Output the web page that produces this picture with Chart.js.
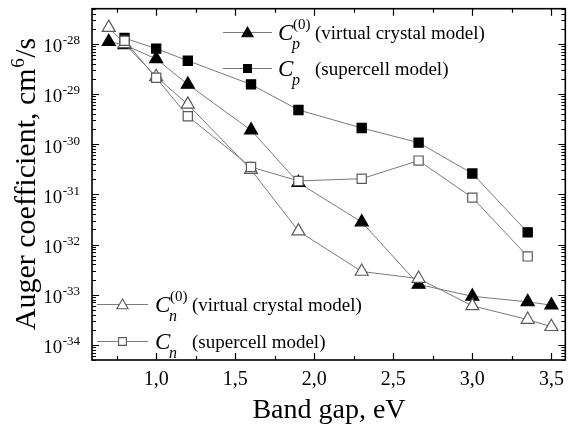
<!DOCTYPE html>
<html><head><meta charset="utf-8">
<script src="https://cdn.jsdelivr.net/npm/chart.js@4.4.0/dist/chart.umd.min.js"></script>
<style>html,body{margin:0;padding:0;background:#fff}canvas{display:block}</style>
</head><body>
<canvas id="c" width="574" height="428"></canvas>
<script>
// Band gap (eV) values for each series
const gapCp0 = [0.7, 0.8, 1.0, 1.2, 1.6, 1.9, 2.3, 2.66, 3.0, 3.35, 3.5];
const valCp0 = [1.1e-28, 9.5e-29, 5.0e-29, 1.55e-29, 1.9e-30, 1.7e-31, 2.8e-32, 1.6e-33, 9.3e-34, 7.2e-34, 6.2e-34];
const gapCp  = [0.8, 1.0, 1.2, 1.6, 1.9, 2.3, 2.66, 3.0, 3.35];
const valCp  = [1.3e-28, 8.0e-29, 4.6e-29, 1.55e-29, 4.8e-30, 2.1e-30, 1.07e-30, 2.6e-31, 1.75e-32];
const gapCn0 = [0.7, 0.8, 1.0, 1.2, 1.6, 1.9, 2.3, 2.66, 3.0, 3.35, 3.5];
const valCn0 = [2.1e-28, 1.0e-28, 2.2e-29, 6.2e-30, 3.1e-31, 1.85e-32, 2.9e-33, 2.1e-33, 6.0e-34, 3.2e-34, 2.3e-34];
const gapCn  = [0.8, 1.0, 1.2, 1.6, 1.9, 2.3, 2.66, 3.0, 3.35];
const valCn  = [1.15e-28, 2.1e-29, 3.6e-30, 3.5e-31, 1.85e-31, 2.05e-31, 4.7e-31, 8.6e-32, 5.8e-33];

const xMajorTicks = [1.0, 1.5, 2.0, 2.5, 3.0, 3.5];
const xTickLabels = ['1,0', '1,5', '2,0', '2,5', '3,0', '3,5'];
const yDecades = [-34, -33, -32, -31, -30, -29, -28];
const xTitle = 'Band gap, eV';
const yTitleParts = ['Auger coefficient, cm', '6', '/s'];
const legendMain = ['C', 'C', 'C', 'C'];
const legendSub = ['p', 'p', 'n', 'n'];
const legendSup = ['(0)', '', '(0)', ''];
const legendText = ['(virtual crystal model)', '(supercell model)', '(virtual crystal model)', '(supercell model)'];

function pts(xs, ys) { return xs.map((x, i) => ({x: x, y: ys[i]})); }

const SERIF = '"Liberation Serif", "Times New Roman", serif';
const LINE = '#7a7a7a';
const OPEN = '#5a5a5a';

const styles = [
  {pointStyle: 'triangle', radius: 7.5, fill: '#000', stroke: '#000'},
  {pointStyle: 'rect', radius: 6.5, fill: '#000', stroke: '#000'},
  {pointStyle: 'triangle', radius: 7.5, fill: '#fff', stroke: OPEN},
  {pointStyle: 'rect', radius: 6.5, fill: '#fff', stroke: OPEN}
];

function ds(label, data, s) {
  return {
    label: label, data: data, borderColor: LINE, borderWidth: 1,
    pointStyle: s.pointStyle, pointRadius: s.radius, pointHoverRadius: s.radius,
    pointBackgroundColor: s.fill, pointBorderColor: s.stroke, pointBorderWidth: 1.2,
    tension: 0, fill: false
  };
}

function drawMarker(ctx, style, x, y, r, fill, stroke) {
  ctx.save();
  ctx.beginPath();
  if (style === 'triangle') {
    ctx.moveTo(x, y - r);
    ctx.lineTo(x + r * Math.sin(2 * Math.PI / 3), y - r * Math.cos(2 * Math.PI / 3));
    ctx.lineTo(x + r * Math.sin(4 * Math.PI / 3), y - r * Math.cos(4 * Math.PI / 3));
    ctx.closePath();
  } else {
    const h = r * Math.SQRT1_2;
    ctx.rect(x - h, y - h, 2 * h, 2 * h);
  }
  ctx.fillStyle = fill; ctx.fill();
  ctx.lineWidth = 1.1; ctx.strokeStyle = stroke; ctx.stroke();
  ctx.restore();
}

const decor = {
  id: 'decor',
  afterDraw(chart) {
    const ctx = chart.ctx;
    const xs = chart.scales.x, ys = chart.scales.y;
    const a = chart.chartArea;
    ctx.save();
    // frame
    ctx.strokeStyle = '#000'; ctx.lineWidth = 1.6;
    ctx.strokeRect(a.left, a.top, a.right - a.left, a.bottom - a.top);
    ctx.lineWidth = 1.2;
    // x ticks
    for (let v = 0.75; v <= 3.6; v += 0.25) {
      const px = Math.round(xs.getPixelForValue(v)) + 0.5;
      if (px < a.left || px > a.right) continue;
      const major = Math.abs(v * 2 - Math.round(v * 2)) < 1e-6;
      const len = major ? 7 : 4;
      ctx.beginPath();
      ctx.moveTo(px, a.bottom); ctx.lineTo(px, a.bottom - len);
      ctx.moveTo(px, a.top); ctx.lineTo(px, a.top + len);
      ctx.stroke();
    }
    // y ticks
    for (let d = -35; d <= -28; d++) {
      for (let k = 1; k <= 9; k++) {
        const v = k * Math.pow(10, d);
        if (v < ys.min || v > ys.max) continue;
        const py = Math.round(ys.getPixelForValue(v)) + 0.5;
        const len = k === 1 ? 7 : 4;
        ctx.beginPath();
        ctx.moveTo(a.left, py); ctx.lineTo(a.left + len, py);
        ctx.moveTo(a.right, py); ctx.lineTo(a.right - len, py);
        ctx.stroke();
      }
    }
    // x tick labels
    ctx.fillStyle = '#000';
    ctx.font = '20px ' + SERIF;
    ctx.textAlign = 'center'; ctx.textBaseline = 'alphabetic';
    xMajorTicks.forEach((v, i) => {
      ctx.fillText(xTickLabels[i], xs.getPixelForValue(v), 385);
    });
    // y tick labels
    yDecades.forEach(d => {
      const py = ys.getPixelForValue(Math.pow(10, d));
      const sup = String(d);
      ctx.font = '13px ' + SERIF;
      const sw = ctx.measureText(sup).width;
      ctx.textAlign = 'left';
      ctx.fillText(sup, 80 - sw, py + 0.5);
      ctx.font = '19px ' + SERIF;
      ctx.textAlign = 'right';
      ctx.fillText('10', 80 - sw - 0.5, py + 8.5);
    });
    // x title
    ctx.font = '28px ' + SERIF;
    ctx.textAlign = 'center';
    ctx.fillText(xTitle, 329, 418);
    // y title
    ctx.save();
    ctx.translate(35, 184);
    ctx.rotate(-Math.PI / 2);
    ctx.textAlign = 'left';
    ctx.font = '30px ' + SERIF;
    const w0 = ctx.measureText(yTitleParts[0]).width;
    const w2 = ctx.measureText(yTitleParts[2]).width;
    ctx.font = '19px ' + SERIF;
    const w1 = ctx.measureText(yTitleParts[1]).width;
    const total = w0 + w1 + w2 + 1;
    let cx = -total / 2;
    ctx.font = '30px ' + SERIF;
    ctx.fillText(yTitleParts[0], cx, 0); cx += w0 + 0.5;
    ctx.font = '19px ' + SERIF;
    ctx.fillText(yTitleParts[1], cx, -11); cx += w1 + 0.5;
    ctx.font = '30px ' + SERIF;
    ctx.fillText(yTitleParts[2], cx, 0);
    ctx.restore();
    // legend
    const legPos = [
      {x0: 223, x1: 272, y: 32, cx: 278},
      {x0: 223, x1: 272, y: 68, cx: 278},
      {x0: 97, x1: 148, y: 304, cx: 155},
      {x0: 97, x1: 148, y: 341, cx: 155}
    ];
    const legR = [6.5, 5.5, 6.5, 5.5];
    legPos.forEach((p, i) => {
      ctx.strokeStyle = LINE; ctx.lineWidth = 1;
      ctx.beginPath(); ctx.moveTo(p.x0, p.y + 0.5); ctx.lineTo(p.x1, p.y + 0.5); ctx.stroke();
      const s = styles[i];
      drawMarker(ctx, s.pointStyle, (p.x0 + p.x1) / 2, p.y + (s.pointStyle === 'triangle' ? 1.5 : 0.5), legR[i], s.fill, s.stroke);
      ctx.fillStyle = '#000';
      ctx.textAlign = 'left';
      ctx.font = 'italic 23px ' + SERIF;
      ctx.fillText(legendMain[i], p.cx, p.y + 7.5);
      ctx.font = 'italic 16px ' + SERIF;
      ctx.fillText(legendSub[i], p.cx + 14, p.y + 16.5);
      if (legendSup[i]) {
        ctx.font = '15px ' + SERIF;
        ctx.fillText(legendSup[i], p.cx + 15, p.y - 3.5);
      }
      ctx.font = '19px ' + SERIF;
      ctx.fillText(legendText[i], p.cx + 37, p.y + 6.5);
    });
    ctx.restore();
  }
};

new Chart(document.getElementById('c'), {
  type: 'line',
  data: {
    datasets: [
      ds('Cn', pts(gapCn, valCn), styles[3]),
      ds('Cn0', pts(gapCn0, valCn0), styles[2]),
      ds('Cp', pts(gapCp, valCp), styles[1]),
      ds('Cp0', pts(gapCp0, valCp0), styles[0])
    ]
  },
  options: {
    responsive: false, animation: false,
    layout: {padding: {left: 92, right: 3, top: 7, bottom: 68}},
    plugins: {legend: {display: false}, tooltip: {enabled: false}},
    scales: {
      x: {type: 'linear', min: 0.594, max: 3.588, display: false},
      y: {type: 'logarithmic', min: 5e-35, max: 5e-28, display: false}
    }
  },
  plugins: [decor]
});
</script>
</body></html>
